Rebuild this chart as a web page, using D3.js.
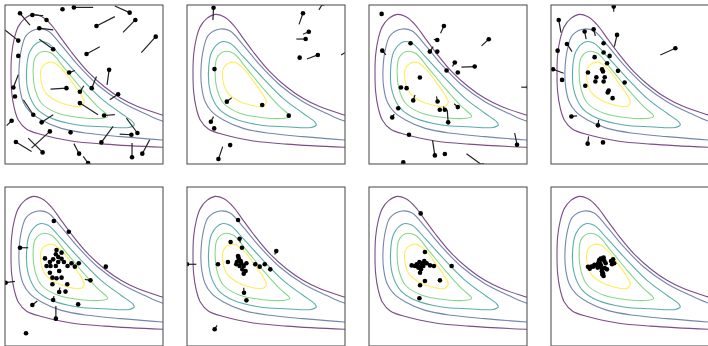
<!DOCTYPE html>
<html><head><meta charset="utf-8">
<script src="https://cdn.jsdelivr.net/npm/d3@7"></script>
<style>body{margin:0;background:#fff}svg{display:block}</style>
</head><body>
<svg id="chart" width="708" height="346"></svg>
<script>
// Contour lines of the target density (same in every panel), data units 0..10
const levelColors = ["#440154", "#3b528b", "#21918c", "#5ec962", "#fde725"];
const contourOuter = [[12,2.5],[9.96,3.08],[8.39,3.61],[7.34,4.13],[6.29,4.86],[5.24,5.81],[4.19,7.06],[3.56,7.9],[2.94,8.74],[2.31,9.27],[1.78,9.41],[1.26,9.16],[0.84,8.64],[0.59,7.9],[0.42,6.86],[0.38,5.81],[0.42,4.55],[0.59,3.5],[0.85,2.75],[1.35,2.2],[2.3,1.85],[4.2,1.45],[6.3,1.25],[9.96,1.05],[12,0.98]];
const contourBlue = [[12,2.3],[9.96,2.7],[8.81,3.19],[7.34,3.92],[5.87,4.97],[4.61,6.23],[3.56,7.48],[2.73,8.36],[2.1,8.49],[1.36,8.11],[1.05,7.27],[0.88,5.81],[0.94,4.76],[1.15,3.92],[1.57,3.29],[2.31,2.77],[3.56,2.24],[5.24,1.93],[7.34,1.72],[9.96,1.51],[12,1.42]];
const contourTeal = [[2.2,7.69],[2.73,7.59],[3.56,6.75],[4.82,5.39],[6.08,4.13],[7.34,3.19],[8.07,2.66],[8.18,2.45],[7.86,2.3],[6.29,2.34],[4.61,2.45],[2.94,2.87],[1.99,3.5],[1.47,4.55],[1.36,5.81],[1.57,7.06]];
const contourGreen = [[2.31,7.06],[2.94,6.96],[3.77,6.02],[4.82,4.76],[5.87,3.61],[6.4,3.15],[6.5,3.0],[6.18,2.88],[4.82,2.91],[3.35,3.19],[2.31,3.82],[1.89,4.76],[1.78,5.81],[1.89,6.65]];
const contourYellow = [[2.62,6.33],[3.04,6.39],[3.67,5.91],[4.3,5.07],[4.82,4.34],[5.02,3.9],[4.9,3.68],[4.72,3.61],[3.98,3.71],[3.14,4.03],[2.52,4.55],[2.26,5.39],[2.31,6.02]];

// Particles per panel: [x, y, tailX, tailY]
const panel1 = [[4.36,9.85,5.58,9.85],[3.64,9.73],[7.89,9.52,6.95,9.94],[8.25,9.06,7.47,8.28],[5.79,8.68,6.95,9.27],[9.54,8.01,8.63,7.01],[0.95,9.48,1.58,8.74],[1.73,9.37,2.42,9.33],[2.63,9.06],[2.17,8.54,3.05,8.43],[0.84,7.76,0,8.43],[3.05,7.22,2.17,7.85],[0.84,6.8],[5.16,6.92,6.0,7.38],[6.59,5.92,6.46,4.98],[4.06,5.75,4.42,5.88],[3.89,4.77,2.88,4.71],[4.74,4.54,4.99,4.92],[5.49,4.77,5.79,5.5],[7.16,4.39,6.63,4.04],[0.53,4.81,0.84,5.61],[0.63,4.25],[4.74,3.83,5.89,3.1],[6.27,3.05,6.95,3.1],[1.79,3.1,1.16,4.04],[2.32,2.62,3.05,3.1],[0.42,2.72,0.1,2.41],[2.84,2.05,1.68,1.0],[4.15,1.99],[0.69,1.38,1.68,0.79],[2.38,0.73,1.47,1.63],[6.1,1.36,6.84,2.36],[8.0,1.84,7.26,1.88],[8.38,1.95,7.68,2.89],[8.04,0.42,8.04,1.32],[8.69,0.65,9.16,1.53],[4.69,0.65,4.36,1.28],[5.26,0.06,4.95,0.48]];
const panel2 = [[1.68,9.83,1.64,9.06],[7.34,9.48,7.09,8.78],[8.6,10.1,8.35,9.69],[7.71,8.32,7.34,8.16],[7.51,7.86,6.92,7.86],[8.28,6.86,7.59,6.6],[7.13,6.69],[10.15,7.1,9.75,6.85],[1.74,5.97],[2.52,3.92,2.83,4.17],[4.76,3.71],[6.44,3.04],[1.51,2.66,1.68,2.98],[1.72,2.24],[2.73,1.19],[1.99,0.31,2.26,1.09]];
const panel3 = [[0.8,9.44],[4.74,8.68,4.53,8.22],[7.58,7.85,7.12,7.43],[4.32,7.8,4.1,7.84],[2.63,7.59],[0.84,7.13,1.07,6.86],[3.85,7.07,4.06,7.38],[4.32,7.07],[5.43,6.38,5.28,6.13],[6.69,6.13,5.85,6.09],[4.91,5.88],[5.62,5.75],[3.22,5.44],[2.02,4.81],[2.38,4.77],[2.8,4.0,2.91,4.35],[4.34,3.93,4.27,4.25],[4.48,3.41],[4.8,3.41,4.7,3.62],[5.62,3.58,5.39,3.79],[5.01,2.62,4.95,3.41],[1.85,3.51],[1.47,2.93,1.6,3.14],[2.53,1.84],[9.37,1.21,9.22,1.95],[4.17,0.54,4.02,1.49],[4.8,0.63],[2.17,0.1],[7.2,-0.1,6.17,0.65],[10.1,4.83,9.64,4.83]];
const panel4 = [[3.97,9.9,3.97,9.58],[0.49,9.06,0.63,8.26],[2.13,8.33,2.22,7.85],[2.7,8.47,2.81,8.05],[4.18,8.12,4.01,7.38],[7.87,7.28,6.92,6.86],[1.01,7.55,1.33,7.07],[0.42,7.13],[3.33,7.59],[3.33,7.01],[3.71,6.8],[2.76,6.72],[3.55,6.34],[0.13,5.96,0.8,5.71],[2.34,5.75],[3.23,5.96],[3.29,5.82],[4.24,5.86],[2.87,5.46],[3.4,5.46],[2.81,5.19],[3.33,5.19],[4.66,5.13],[0.7,5.29],[2.17,4.92],[3.65,4.62],[3.59,4.5],[3.9,4.14],[1.29,2.99,1.65,3.03],[2.97,2.43,3.02,2.78],[2.32,1.28,2.38,1.74],[3.29,1.36]];
const panel5 = [[3.09,7.86],[4.04,7.19],[0.95,6.18,1.47,6.18],[0.04,3.98,0.63,4.07],[6.38,4.99],[5.41,4.13,5.05,4.19],[1.73,2.58,2.04,2.83],[3.05,2.89,3.1,3.14],[3.22,1.72,3.22,2.52],[4.63,2.62],[1.33,0.8],[3.26,6.04],[3.22,5.77],[2.53,5.51],[3.05,5.45],[3.37,5.6],[3.58,5.49],[3.73,5.28],[3.37,5.28],[2.63,5.03],[2.88,5.03],[3.22,5.03],[3.96,5.03],[4.21,5.2],[4.67,5.2],[4.42,4.99],[2.84,4.61],[3.43,4.72],[3.0,4.3],[3.26,4.26],[3.58,4.3],[3.94,3.88],[3.0,3.88],[3.43,3.4,3.47,3.68],[3.83,3.42],[2.84,5.28],[3.58,5.87]];
const panel6 = [[3.23,7.92],[5.65,5.97,5.55,5.76],[0.0,5.14,0.59,5.14],[1.96,5.14],[2.59,5.28],[3.33,6.75,3.37,6.5],[2.76,6.54],[3.48,6.18],[4.32,5.14],[4.6,4.99],[4.92,5.14],[5.27,4.82],[3.61,3.35,3.59,3.66],[3.76,2.87],[1.75,1.05,1.9,1.3],[3.23,5.66],[3.29,5.45],[3.16,5.28],[3.44,5.2],[3.33,5.03],[3.59,5.03],[3.5,4.82],[3.71,4.72],[3.59,4.55],[3.12,5.14],[3.76,5.2],[3.4,5.35],[3.25,5.58]];
const panel7 = [[3.27,8.34],[3.54,5.91],[5.23,5.03],[4.49,4.13],[3.54,4.09],[3.23,3.82],[3.19,3.0],[2.7,5.07],[3.02,5.14],[3.19,5.28],[3.33,5.2],[3.44,5.03],[3.12,4.93],[3.29,4.82],[3.23,4.61],[3.65,5.2],[3.86,5.07],[4.11,5.03],[3.5,5.35],[2.91,5.03],[3.3,5.05],[3.4,5.15]];
const panel8 = [[2.34,4.98],[2.45,4.86],[2.55,5.0],[2.66,4.99],[2.75,5.1],[2.87,5.07],[2.95,4.93],[2.98,5.2],[3.08,5.24],[3.05,5.4],[3.15,5.5],[3.23,5.45],[3.3,5.52],[3.33,5.56],[3.1,5.15],[3.16,5.07],[3.18,4.95],[3.23,4.82],[3.22,4.7],[3.29,4.57],[3.25,4.5],[3.33,4.4],[3.4,4.9],[3.46,5.2],[3.54,4.82],[3.38,5.35],[3.8,5.35],[3.86,5.14],[3.93,5.45],[4.0,5.2]];

const panels = [panel1, panel2, panel3, panel4, panel5, panel6, panel7, panel8];
const closedContours = [contourTeal, contourGreen, contourYellow];
const openContours = [contourOuter, contourBlue];

const W = 158, H = 159, step = 182, off = 5;
const svg = d3.select("#chart");
const x = d3.scaleLinear().domain([0, 10]).range([0, W]);
const y = d3.scaleLinear().domain([0, 10]).range([H, 0]);

const openLine = d3.line().x(d => x(d[0])).y(d => y(d[1])).curve(d3.curveCatmullRom.alpha(0.5));
const closedLine = d3.line().x(d => x(d[0])).y(d => y(d[1])).curve(d3.curveCatmullRomClosed.alpha(0.5));

svg.append("defs").append("clipPath").attr("id", "clip")
  .append("rect").attr("width", W).attr("height", H);

panels.forEach((pts, i) => {
  const col = i % 4, row = Math.floor(i / 4);
  const g = svg.append("g").attr("transform", `translate(${off + col * step},${off + row * step})`);
  const inner = g.append("g").attr("clip-path", "url(#clip)");
  openContours.forEach((c, k) => {
    inner.append("path").attr("d", openLine(c)).attr("fill", "none")
      .attr("stroke", levelColors[k]).attr("stroke-opacity", 0.7).attr("stroke-width", 1.1);
  });
  closedContours.forEach((c, k) => {
    inner.append("path").attr("d", closedLine(c)).attr("fill", "none")
      .attr("stroke", levelColors[k + 2]).attr("stroke-opacity", 0.75).attr("stroke-width", 1.1);
  });
  inner.selectAll("line.v").data(pts.filter(p => p.length > 2)).join("line")
    .attr("x1", p => x(p[0])).attr("y1", p => y(p[1]))
    .attr("x2", p => x(p[2])).attr("y2", p => y(p[3]))
    .attr("stroke", "#222").attr("stroke-width", 1.2);
  inner.selectAll("circle").data(pts).join("circle")
    .attr("cx", p => x(p[0])).attr("cy", p => y(p[1])).attr("r", 2.3).attr("fill", "#000");
  g.append("rect").attr("width", W).attr("height", H).attr("fill", "none")
    .attr("stroke", "#555").attr("stroke-width", 1.1);
});
</script>
</body></html>
